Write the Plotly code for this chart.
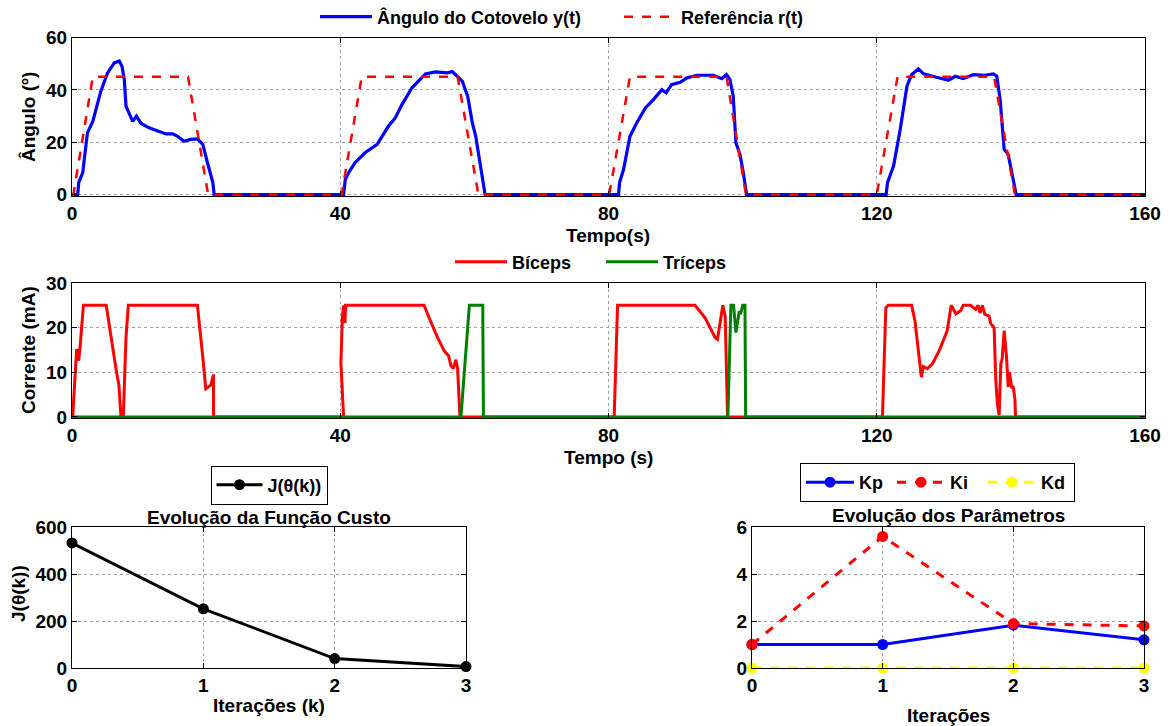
import plotly.graph_objects as go

# ---------------- data ----------------
t_ang = [0, 0.85, 1.0, 1.6, 2.3, 3.1, 4.3, 5.3, 6.3, 7.05, 7.45, 7.8, 8.05, 8.55, 9.05, 9.6, 10.3, 11.5, 13.0, 14.0,
         15.0, 15.75, 16.7, 17.7, 18.7, 19.5, 20.2, 21.0, 21.2,
         40.5, 40.75, 41.25, 42.2, 43.7, 45.5, 46.2, 47.2, 48.2, 49.2, 50.7, 51.7, 52.7, 54.2, 56.0, 56.7, 57.5,
         58.2, 59.0, 59.7, 60.2, 61.45, 61.6,
         81.5, 81.65, 82.25, 83.2, 84.2, 85.5, 86.7, 87.95, 88.6, 89.4, 90.7, 91.7, 93.2, 95.65, 96.9, 97.6,
         98.1, 98.6, 99.0, 99.6, 100.1, 100.6,
         121.4, 121.6, 122.5, 123.5, 124.5, 125.2, 126.2, 127.0, 128.9, 130.7, 131.7, 132.9, 134.4, 136.1,
         137.4, 137.9, 138.4, 139.0, 139.6, 140.1, 140.8, 160]
y_ang = [0, 0, 4.6, 8.4, 23.6, 28, 39.5, 46.5, 50.3, 51, 49, 44, 33.8, 31.2, 28, 30, 27.2, 25.5, 24.3, 23.2,
         23.2, 22.3, 20.4, 21.1, 21.3, 19.2, 12.2, 4.6, 0,
         0, 5.8, 8.4, 12.2, 16, 19.2, 22.3, 26.2, 29.3, 34.4, 40.8, 43.3, 46.1, 46.9, 46.5, 47, 45.2,
         43.3, 37.6, 27.4, 22.3, 2.7, 0,
         0, 4.6, 9.7, 22.3, 27.4, 33.1, 36.3, 40.1, 38.9, 42, 42.9, 44.6, 45.6, 45.6, 44.3, 45.8,
         44, 37.6, 19.8, 15.4, 8.4, 0,
         0, 4.6, 10.9, 24.9, 41.4, 45.8, 48, 46.1, 44.8, 43.7, 45.2, 44.3, 45.8, 45.6,
         46.1, 45.2, 36.3, 17.3, 15.4, 8.4, 0, 0]

t_ref = [0, 0.2, 3.1, 17.3, 20.3, 40.2, 43.2, 57.5, 60.6, 80.1, 83.2, 97.6, 100.5, 120.0, 123.1, 137.5, 140.6, 160]
r_ref = [0, 0, 45, 45, 0, 0, 45, 45, 0, 0, 45, 45, 0, 0, 45, 45, 0, 0]

t_bic = [0, 0.1, 0.7, 1.0, 1.2, 1.7, 5.1, 5.8, 6.6, 7.0, 7.3, 7.65, 8.05, 8.4, 18.7, 19.5, 19.95, 20.7, 21.1, 21.1,
         40.5, 40.1, 40.3, 40.5, 40.7, 40.8, 41.0, 52.5, 53.25, 54.5, 55.5, 56.15, 56.5, 56.85, 57.25, 57.5, 57.85,
         80.85, 81.35, 92.9, 94.4, 95.9, 96.25, 97.05, 97.4, 97.75,
         120.85, 121.35, 121.7, 125.2, 125.7, 126.15, 126.65, 126.95, 127.55, 128.3,
         129.3, 130.5, 131.1, 131.8, 132.5, 132.9, 134.0, 134.75, 135.1, 135.4,
         135.75, 136.1, 136.75, 137.0, 137.5, 137.75, 138.0, 138.25, 138.5, 138.7,
         139.0, 139.35, 139.6, 139.8, 140.1, 140.35, 140.6, 140.7, 160]
i_bic = [0, 0, 15.2, 12.6, 15.6, 25, 25, 17.8, 10.4, 7.1, 0, 0, 17.8, 25, 25, 13.4, 6.3, 7.1, 9.5, 0,
         0, 12, 22, 25, 21, 25, 25, 25, 22.2, 17.8, 14.8, 13.7, 11.5, 10.8, 12.8, 10.8, 0,
         0, 25, 25, 22.2, 17.8, 17.4, 25, 22.6, 0,
         0, 24.4, 25, 25, 21.5, 14.8, 8.9, 11.3, 10.8, 11.9,
         14.8, 19.3, 25, 23.1, 23.8, 25, 25, 24.1, 25, 23.3,
         25, 23, 22.6, 20.9, 20, 8.2, 2.7, 0.4, 11.9, 13,
         19.3, 13.4, 6.7, 10, 6.7, 6.7, 4.1, 0, 0]

t_tri = [0, 58.0, 59.25, 61.25, 61.35, 97.8, 98.25, 98.65, 99.0, 99.5, 99.7, 100.0, 100.35, 100.45, 160]
i_tri = [0, 0, 25, 25, 0, 0, 25, 25, 18.9, 23.7, 23, 25, 25, 0, 0]

iter_k = [0, 1, 2, 3]
J_vals = [532, 252, 40, 6]
Kp = [1.0, 1.0, 1.82, 1.2]
Ki = [1.0, 5.6, 1.89, 1.79]
Kd = [0.0, 0.0, 0.0, 0.0]

# ---------------- figure ----------------
W, H = 1168, 726
FONT = "Liberation Sans, Arial, Helvetica, sans-serif"
FS_TICK = 19
FS_LAB = 19
FS_LEG = 18


def px_x(p):
    return p / W


def px_y(p):
    return 1 - p / H


fig = go.Figure()

fig.add_trace(go.Scatter(x=t_ang, y=y_ang, mode="lines", name="Ângulo do Cotovelo y(t)",
                         line=dict(color="#0000ff", width=3.2), xaxis="x", yaxis="y", legend="legend"))
fig.add_trace(go.Scatter(x=t_ref, y=r_ref, mode="lines", name="Referência r(t)",
                         line=dict(color="#ff0000", width=2.5, dash="dash"), xaxis="x", yaxis="y", legend="legend"))

fig.add_trace(go.Scatter(x=t_bic, y=i_bic, mode="lines", name="Bíceps",
                         line=dict(color="#ff0000", width=3), xaxis="x2", yaxis="y2", legend="legend2"))
fig.add_trace(go.Scatter(x=t_tri, y=i_tri, mode="lines", name="Tríceps",
                         line=dict(color="#008000", width=3), xaxis="x2", yaxis="y2", legend="legend2"))

fig.add_trace(go.Scatter(x=iter_k, y=J_vals, mode="lines+markers", name="J(θ(k))",
                         line=dict(color="#000000", width=3), marker=dict(size=11, color="#000000"),
                         cliponaxis=False, xaxis="x3", yaxis="y3", legend="legend3"))

fig.add_trace(go.Scatter(x=iter_k, y=Kp, mode="lines+markers", name="Kp",
                         line=dict(color="#0000ff", width=3), marker=dict(size=11, color="#0000ff"),
                         cliponaxis=False, xaxis="x4", yaxis="y4", legend="legend4"))
fig.add_trace(go.Scatter(x=iter_k, y=Ki, mode="lines+markers", name="Ki",
                         line=dict(color="#ff0000", width=3, dash="dash"), marker=dict(size=11, color="#ff0000"),
                         cliponaxis=False, xaxis="x4", yaxis="y4", legend="legend4"))
fig.add_trace(go.Scatter(x=iter_k, y=Kd, mode="lines+markers", name="Kd",
                         line=dict(color="#ffff00", width=3, dash="dash"), marker=dict(size=11, color="#ffff00"),
                         cliponaxis=False, xaxis="x4", yaxis="y4", legend="legend4"))

tickfont = dict(family=FONT, size=FS_TICK, color="black", weight="bold")
axis_common = dict(showline=True, linecolor="black", linewidth=1, mirror="ticks", ticks="inside",
                   ticklen=5, tickcolor="black", showgrid=True, gridcolor="#a0a0a0", griddash="dot",
                   gridwidth=1, zeroline=False, tickfont=tickfont, fixedrange=True, automargin=False)

top_dom = [px_y(196), px_y(37.5)]
mid_dom = [px_y(418), px_y(283)]
bot_dom = [px_y(668), px_y(527)]

legfont = dict(family=FONT, size=FS_LEG, weight="bold", color="black")

fig.update_layout(
    width=W, height=H, margin=dict(l=0, r=0, t=0, b=0, pad=0, autoexpand=False),
    paper_bgcolor="white", plot_bgcolor="white",
    font=dict(family=FONT, size=FS_LAB, color="black", weight="bold"),
    showlegend=True,
    xaxis=dict(domain=[px_x(72), px_x(1145)], anchor="y", range=[0, 160], tickvals=[0, 40, 80, 120, 160],
               ticklabelstandoff=0, **axis_common),
    yaxis=dict(domain=top_dom, anchor="x", range=[-0.5, 60], tickvals=[0, 20, 40, 60], **axis_common),
    xaxis2=dict(domain=[px_x(72), px_x(1145)], anchor="y2", range=[0, 160], tickvals=[0, 40, 80, 120, 160],
                ticklabelstandoff=0, **axis_common),
    yaxis2=dict(domain=mid_dom, anchor="x2", range=[-0.25, 30], tickvals=[0, 10, 20, 30], **axis_common),
    xaxis3=dict(domain=[px_x(72), px_x(466)], anchor="y3", range=[0, 3], tickvals=[0, 1, 2, 3],
                ticklabelstandoff=0, **axis_common),
    yaxis3=dict(domain=bot_dom, anchor="x3", range=[0, 600], tickvals=[0, 200, 400, 600], **axis_common),
    xaxis4=dict(domain=[px_x(752), px_x(1144)], anchor="y4", range=[0, 3], tickvals=[0, 1, 2, 3],
                ticklabelstandoff=0, **axis_common),
    yaxis4=dict(domain=bot_dom, anchor="x4", range=[0, 6], tickvals=[0, 2, 4, 6], **axis_common),
    legend=dict(orientation="h", x=px_x(315), y=px_y(17), xanchor="left", yanchor="middle",
                bgcolor="rgba(0,0,0,0)", borderwidth=0, font=legfont,
                entrywidth=237, itemwidth=52),
    legend2=dict(orientation="h", x=px_x(450), y=px_y(262), xanchor="left", yanchor="middle",
                 bgcolor="rgba(0,0,0,0)", borderwidth=0, font=legfont,
                 entrywidth=84, itemwidth=52),
    legend3=dict(orientation="h", x=px_x(269), y=px_y(485), xanchor="center", yanchor="middle",
                 bgcolor="white", bordercolor="black", borderwidth=1, font=legfont, itemwidth=46),
    legend4=dict(orientation="h", x=px_x(800), y=px_y(482.5), xanchor="left", yanchor="middle",
                 bgcolor="white", bordercolor="black", borderwidth=1, font=legfont,
                 entrywidth=28, itemwidth=48),
)

ann_font = dict(family=FONT, size=FS_LAB, color="black", weight="bold")
annotations = [
    dict(text="Tempo(s)", x=px_x(608), y=px_y(235), xanchor="center", yanchor="middle"),
    dict(text="Tempo (s)", x=px_x(608), y=px_y(457), xanchor="center", yanchor="middle"),
    dict(text="Iterações (k)", x=px_x(269), y=px_y(705), xanchor="center", yanchor="middle"),
    dict(text="Iterações", x=px_x(948), y=px_y(715), xanchor="center", yanchor="middle"),
    dict(text="Evolução da Função Custo", x=px_x(269), y=px_y(517), xanchor="center", yanchor="middle"),
    dict(text="Evolução dos Parâmetros", x=px_x(948), y=px_y(515), xanchor="center", yanchor="middle"),
    dict(text="Ângulo (º)", x=px_x(28), y=px_y(117), xanchor="center", yanchor="middle", textangle=-90),
    dict(text="Corrente (mA)", x=px_x(28), y=px_y(350), xanchor="center", yanchor="middle", textangle=-90),
    dict(text="J(θ(k))", x=px_x(18), y=px_y(594), xanchor="center", yanchor="middle", textangle=-90),
]
for a in annotations:
    a.update(xref="paper", yref="paper", showarrow=False, font=ann_font)
fig.update_layout(annotations=annotations)

fig.write_html("out.html",
               post_script="document.body.style.margin='0px';document.documentElement.style.overflow='hidden';")
